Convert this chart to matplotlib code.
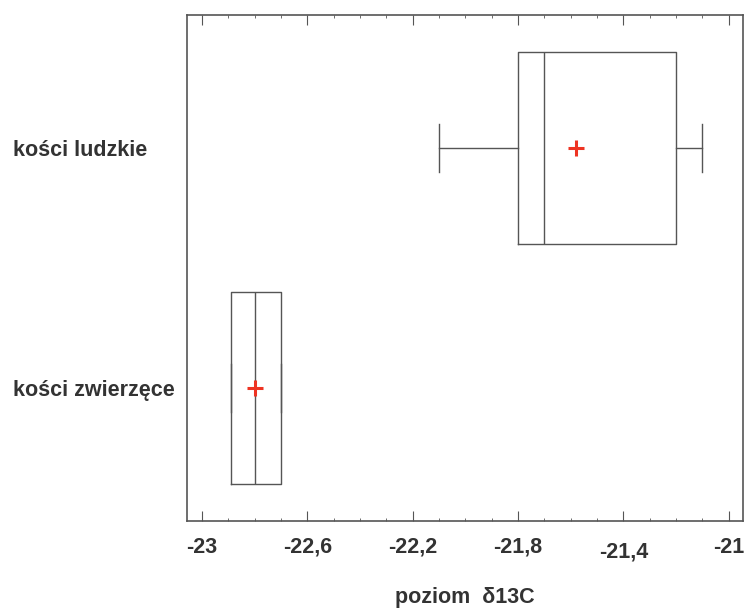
import matplotlib.pyplot as plt
import matplotlib.transforms as mtransforms

plt.rcParams['font.family'] = ['Liberation Sans', 'DejaVu Sans']

categories = ['kości ludzkie', 'kości zwierzęce']
positions = [1, 0]
q1 = [-21.80, -22.89]
med = [-21.70, -22.80]
q3 = [-21.20, -22.70]
whislo = [-22.10, -22.89]
whishi = [-21.10, -22.70]
means = [-21.58, -22.80]

xticks = [-23, -22.6, -22.2, -21.8, -21.4, -21]
xticklabels = ['-23', '-22,6', '-22,2', '-21,8', '-21,4', '-21']

line_col = '#555555'
text_col = '#333333'

stats = []
for i in range(len(categories)):
    stats.append(dict(label=categories[i], q1=q1[i], med=med[i], q3=q3[i],
                      whislo=whislo[i], whishi=whishi[i], mean=means[i], fliers=[]))

fig = plt.figure(figsize=(7.45, 6.1), dpi=100)
ax = fig.add_axes([0.251, 0.146, 0.746, 0.8295])

ax.bxp(stats, positions=positions, orientation='horizontal', widths=0.8,
       capwidths=0.2, showmeans=True, showfliers=False,
       boxprops=dict(color=line_col, linewidth=1.0),
       medianprops=dict(color=line_col, linewidth=1.0),
       whiskerprops=dict(color=line_col, linewidth=1.0),
       capprops=dict(color=line_col, linewidth=1.0),
       meanprops=dict(marker='+', markeredgecolor='#ee3322', markersize=11,
                      markeredgewidth=2.2))

ax.set_xlim(-23.057, -20.947)
ax.set_ylim(-0.554, 1.554)

ax.set_xticks(xticks)
ax.set_xticklabels(xticklabels, fontsize=15.5, fontweight='bold', color=text_col)
ax.set_xticks([-23 + 0.1 * k for k in range(21)], minor=True)
ax.tick_params(axis='x', which='both', direction='in', top=True, bottom=True,
               color=line_col)
ax.tick_params(axis='x', which='major', length=7, pad=11.5)
ax.tick_params(axis='x', which='minor', length=2.5)

# the -21,4 label sits a bit lower in the original
lab = ax.get_xticklabels()[4]
lab.set_transform(lab.get_transform() + mtransforms.ScaledTranslation(0, -3.5 / 72, fig.dpi_scale_trans))

ax.set_yticks(positions)
ax.set_yticklabels(categories, fontsize=15.5, fontweight='bold', color=text_col)
ax.tick_params(axis='y', length=0, pad=125)
for t in ax.get_yticklabels():
    t.set_horizontalalignment('left')

for s in ax.spines.values():
    s.set_color(line_col)
    s.set_linewidth(1.2)

fig.text(0.624, 0.011, 'poziom  δ13C', fontsize=15.5, fontweight='bold',
         color=text_col, ha='center')

plt.savefig('out.png')
